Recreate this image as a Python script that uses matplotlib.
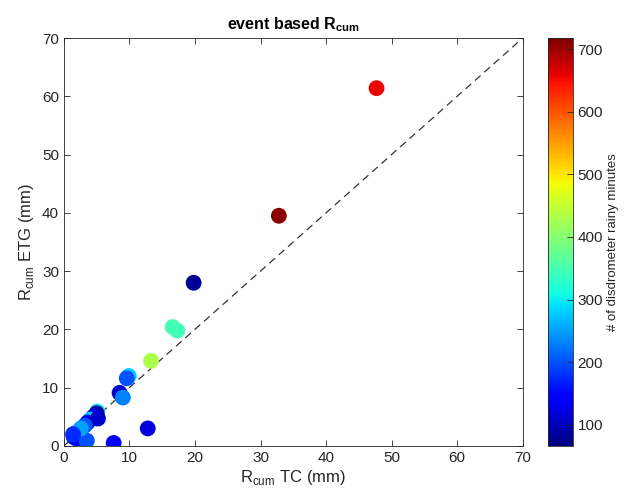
import numpy as np
import matplotlib
matplotlib.use('Agg')
import matplotlib.pyplot as plt

plt.rcParams['font.family'] = ['Liberation Sans', 'DejaVu Sans']
plt.rcParams['mathtext.fontset'] = 'custom'
plt.rcParams['mathtext.rm'] = 'Liberation Sans'
plt.rcParams['mathtext.bf'] = 'Liberation Sans:bold'

# event values
r_tc = [47.7, 32.8, 19.8, 16.6, 17.3, 13.3, 9.9, 9.6, 8.5, 9.0,
        12.8, 7.6, 5.1, 5.0, 4.5, 4.0, 3.6, 5.2, 3.2, 2.5,
        1.8, 1.5, 2.0, 3.5, 2.6, 1.4]
r_etg = [61.4, 39.5, 28.0, 20.4, 19.8, 14.6, 12.0, 11.6, 9.1, 8.3,
         3.0, 0.5, 5.9, 5.6, 5.0, 4.5, 4.0, 4.7, 3.5, 2.5,
         2.2, 1.5, 1.2, 0.9, 3.0, 2.0]
rainy_min = [655, 712, 80, 350, 345, 430, 280, 200, 110, 230,
             120, 140, 300, 90, 150, 280, 130, 110, 200, 160,
             170, 180, 150, 200, 250, 175]

dark = '#262626'

fig = plt.figure(figsize=(6.26, 5.01), dpi=100)
ax = fig.add_axes([0.102, 0.110, 0.733, 0.814])
cax = fig.add_axes([0.876, 0.110, 0.039, 0.814])

ax.plot([0, 70], [0, 70], '--', color='#333333', lw=0.9, dashes=(6, 4), zorder=1)
sc = ax.scatter(r_tc, r_etg, c=rainy_min, cmap='jet', vmin=66, vmax=718,
                s=130, edgecolors='none', zorder=2)

ax.set_xlim(0, 70)
ax.set_ylim(0, 70)
ax.set_xticks(range(0, 71, 10))
ax.set_yticks(range(0, 71, 10))
ax.tick_params(direction='in', top=True, right=True, labelsize=11,
               colors=dark, length=4, width=0.6)
for s in ax.spines.values():
    s.set_color(dark)
    s.set_linewidth(0.6)

ax.set_xlabel(r'R$_{\mathrm{cum}}$ TC (mm)', fontsize=12, color=dark, labelpad=2)
ax.set_ylabel(r'R$_{\mathrm{cum}}$ ETG (mm)', fontsize=12, color=dark, labelpad=4)
ax.set_title(r'event based R$_{\mathbf{cum}}$', fontsize=11.5, fontweight='bold',
             color='black', pad=6)

cb = fig.colorbar(sc, cax=cax)
cb.set_ticks([100, 200, 300, 400, 500, 600, 700])
cb.ax.tick_params(direction='in', labelsize=11, colors=dark, length=4, width=0.6)
cb.outline.set_edgecolor(dark)
cb.outline.set_linewidth(0.6)
cb.set_label('# of disdrometer rainy minutes', fontsize=9.5, color=dark, labelpad=3)

fig.savefig('out.png', dpi=100)
